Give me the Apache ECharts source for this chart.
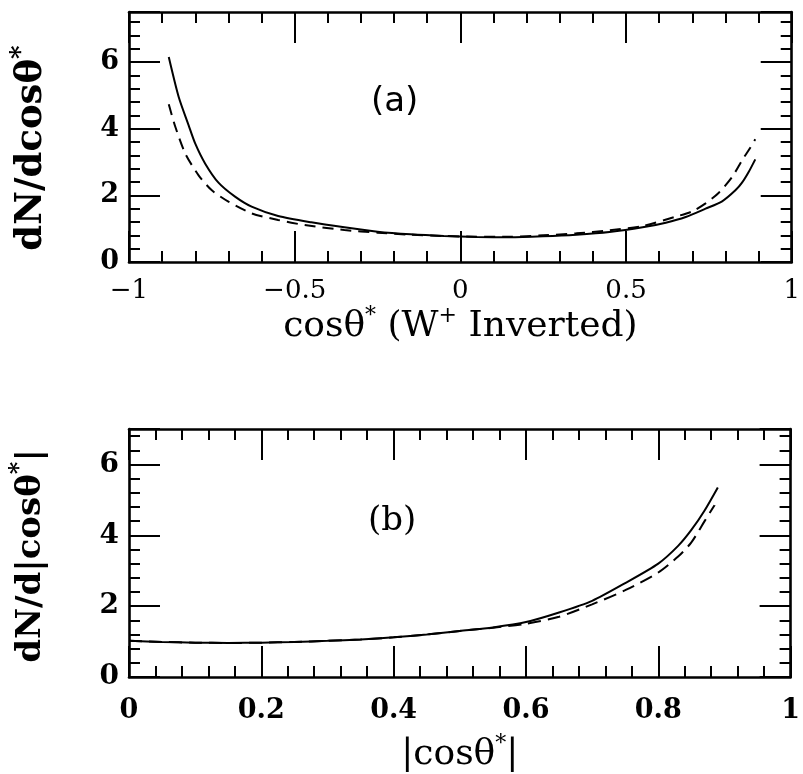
<!DOCTYPE html>
<html>
<head>
<meta charset="utf-8">
<script src="https://cdn.jsdelivr.net/npm/echarts@6/dist/echarts.min.js"></script>
<style>
html,body{margin:0;padding:0;background:#fff;}
#chart{width:803px;height:774px;}
</style>
</head>
<body>
<div id="chart"></div>
<script>
// ---- Panel (a): dN/dcosθ* vs cosθ* (W+ inverted) ----
const aSolidX = [-0.88,-0.85,-0.82,-0.80,-0.77,-0.73,-0.68,-0.63,-0.55,-0.45,-0.35,-0.25,-0.15,-0.05,0.05,0.15,0.25,0.35,0.45,0.55,0.62,0.68,0.74,0.79,0.83,0.85,0.87,0.89];
const aSolidY = [6.15,4.95,4.10,3.55,2.95,2.38,1.96,1.66,1.38,1.19,1.04,0.91,0.83,0.78,0.75,0.74,0.77,0.82,0.90,1.04,1.18,1.35,1.60,1.82,2.15,2.38,2.70,3.08];
const aDashX = [-0.88,-0.86,-0.83,-0.79,-0.75,-0.70,-0.63,-0.55,-0.47,-0.35,-0.25,-0.15,-0.05,0.05,0.15,0.25,0.35,0.45,0.55,0.65,0.70,0.74,0.78,0.82,0.85,0.87,0.89];
const aDashY = [4.73,4.05,3.25,2.60,2.15,1.81,1.46,1.26,1.11,0.96,0.88,0.82,0.78,0.76,0.76,0.80,0.86,0.95,1.08,1.36,1.52,1.76,2.08,2.55,3.05,3.35,3.68];
const aXTicks = [-1,-0.5,0,0.5,1];
const aXTickLabels = ['\u22121','\u22120.5','0','0.5','1'];
const aYTicks = [0,2,4,6];
const aYTickLabels = ['0','2','4','6'];

// ---- Panel (b): dN/d|cosθ*| vs |cosθ*| ----
const bSolidX = [0,0.05,0.10,0.15,0.20,0.25,0.30,0.35,0.40,0.45,0.50,0.55,0.60,0.65,0.70,0.75,0.80,0.83,0.85,0.87,0.89];
const bSolidY = [1.02,0.99,0.97,0.96,0.97,0.99,1.02,1.06,1.12,1.20,1.30,1.40,1.55,1.82,2.15,2.65,3.20,3.70,4.15,4.70,5.35];
const bDashX = [0,0.05,0.10,0.15,0.20,0.25,0.30,0.35,0.40,0.45,0.50,0.55,0.60,0.65,0.70,0.75,0.80,0.83,0.85,0.87,0.885];
const bDashY = [1.02,0.99,0.97,0.96,0.97,0.99,1.02,1.06,1.12,1.20,1.30,1.39,1.50,1.70,2.05,2.45,2.95,3.40,3.80,4.40,4.85];
const bXTicks = [0,0.2,0.4,0.6,0.8,1];
const bXTickLabels = ['0','0.2','0.4','0.6','0.8','1'];
const bYTicks = [0,2,4,6];
const bYTickLabels = ['0','2','4','6'];

function pairs(xs, ys){ return xs.map((x,i)=>[x, ys[i]]); }
function labeler(ticks, labels){
  return function(v){
    for (let i=0;i<ticks.length;i++){ if (Math.abs(v-ticks[i])<1e-6) return labels[i]; }
    return '';
  };
}

const SERIF = '"DejaVu Serif", "Liberation Serif", serif';
const LINE = {color:'#000', width:2.6};

function xAxes(grid, min, max, major, minor, ticks, labels, name, nameGap, lblSize, lblWeight, lblMargin, nameSize){
  return [
    {type:'value', gridIndex:grid, position:'bottom', min:min, max:max, interval:major,
     axisLine:{show:true, onZero:false, lineStyle:LINE},
     axisTick:{show:true, inside:true, length:31, lineStyle:{color:'#000', width:2}},
     splitLine:{show:false},
     axisLabel:{show:true, margin:lblMargin, color:'#000', fontFamily:SERIF, fontSize:lblSize, fontWeight:lblWeight,
                formatter:labeler(ticks, labels), showMinLabel:true, showMaxLabel:true},
     name:name, nameLocation:'middle', nameGap:nameGap,
     nameTextStyle:{color:'#000', fontFamily:SERIF,
       rich:{t:{fontSize:nameSize, fontFamily:SERIF, color:'#000', lineHeight:44},
             s:{fontSize:Math.round(nameSize*0.62), fontFamily:SERIF, color:'#000', verticalAlign:'top', lineHeight:44}}}},
    {type:'value', gridIndex:grid, position:'bottom', min:min, max:max, interval:minor,
     axisLine:{show:false, onZero:false}, axisTick:{show:true, inside:true, length:11, lineStyle:{color:'#000', width:2}},
     splitLine:{show:false}, axisLabel:{show:false}},
    {type:'value', gridIndex:grid, position:'top', min:min, max:max, interval:major,
     axisLine:{show:true, onZero:false, lineStyle:LINE},
     axisTick:{show:true, inside:true, length:31, lineStyle:{color:'#000', width:2}},
     splitLine:{show:false}, axisLabel:{show:false}},
    {type:'value', gridIndex:grid, position:'top', min:min, max:max, interval:minor,
     axisLine:{show:false, onZero:false}, axisTick:{show:true, inside:true, length:11, lineStyle:{color:'#000', width:2}},
     splitLine:{show:false}, axisLabel:{show:false}}
  ];
}
function yAxes(grid, min, max, major, minor, ticks, labels, name, nameGap, lblSize, nameSize, namePad){
  return [
    {type:'value', gridIndex:grid, position:'left', min:min, max:max, interval:major,
     axisLine:{show:true, onZero:false, lineStyle:LINE},
     axisTick:{show:true, inside:true, length:31, lineStyle:{color:'#000', width:2}},
     splitLine:{show:false},
     axisLabel:{show:true, margin:10, color:'#000', fontFamily:SERIF, fontSize:lblSize, fontWeight:'bold',
                formatter:labeler(ticks, labels)},
     name:name, nameLocation:'middle', nameGap:nameGap, nameRotate:90,
     nameTextStyle:{color:'#000', fontFamily:SERIF, padding:namePad,
       rich:{t:{fontSize:nameSize, fontWeight:'bold', fontFamily:SERIF, color:'#000', lineHeight:46},
             s:{fontSize:Math.round(nameSize*0.7), fontWeight:'bold', fontFamily:SERIF, color:'#000', verticalAlign:'top', lineHeight:46}}}},
    {type:'value', gridIndex:grid, position:'left', min:min, max:max, interval:minor,
     axisLine:{show:false, onZero:false}, axisTick:{show:true, inside:true, length:11, lineStyle:{color:'#000', width:2}},
     splitLine:{show:false}, axisLabel:{show:false}},
    {type:'value', gridIndex:grid, position:'right', min:min, max:max, interval:major,
     axisLine:{show:true, onZero:false, lineStyle:LINE},
     axisTick:{show:true, inside:true, length:31, lineStyle:{color:'#000', width:2}},
     splitLine:{show:false}, axisLabel:{show:false}},
    {type:'value', gridIndex:grid, position:'right', min:min, max:max, interval:minor,
     axisLine:{show:false, onZero:false}, axisTick:{show:true, inside:true, length:11, lineStyle:{color:'#000', width:2}},
     splitLine:{show:false}, axisLabel:{show:false}}
  ];
}

const chart = echarts.init(document.getElementById('chart'), null, {renderer:'canvas'});
const option = {
  backgroundColor:'#fff',
  animation:false,
  grid:[
    {left:128, top:12, width:673, height:250},
    {left:125, top:429, width:670, height:250}
  ],
  xAxis: [].concat(
    xAxes(0, -1, 1, 0.5, 0.1, aXTicks, aXTickLabels, '{t|cos\u03B8}{s|*}{t| (W}{s|+}{t| Inverted)}', 40, 26, 'normal', 16, 36),
    xAxes(1, 0, 1, 0.2, 0.04, bXTicks, bXTickLabels, '{t||cos\u03B8}{s|*}{t||}', 56, 27, 'bold', 20, 36)
  ),
  yAxis: [].concat(
    yAxes(0, 0, 7.5, 2, 0.4, aYTicks, aYTickLabels, '{t|dN/dcos\u03B8}{s|*}', 75, 27, 37, [0,22,0,0]),
    yAxes(1, 0, 7, 2, 0.4, bYTicks, bYTickLabels, '{t|dN/d|cos\u03B8}{s|*}{t||}', 75, 28, 34, [0,6,0,0])
  ),
  graphic:[
    {type:'text', left:371, top:85, style:{text:'(a)', font:'34px "DejaVu Sans", sans-serif', fill:'#000'}},
    {type:'text', left:368, top:504, style:{text:'(b)', font:'34px "DejaVu Serif", serif', fill:'#000'}}
  ],
  series:[
    {type:'line', xAxisIndex:0, yAxisIndex:0, data:pairs(aSolidX, aSolidY), showSymbol:false, smooth:0.25,
     lineStyle:{color:'#000', width:2}},
    {type:'line', xAxisIndex:0, yAxisIndex:0, data:pairs(aDashX, aDashY), showSymbol:false, smooth:0.25,
     lineStyle:{color:'#000', width:2, type:[11,7]}},
    {type:'line', xAxisIndex:4, yAxisIndex:4, data:pairs(bSolidX, bSolidY), showSymbol:false, smooth:0.25,
     lineStyle:{color:'#000', width:2}},
    {type:'line', xAxisIndex:4, yAxisIndex:4, data:pairs(bDashX, bDashY), showSymbol:false, smooth:0.25,
     lineStyle:{color:'#000', width:2, type:[13,7]}}
  ]
};
chart.setOption(option);
</script>
</body>
</html>
